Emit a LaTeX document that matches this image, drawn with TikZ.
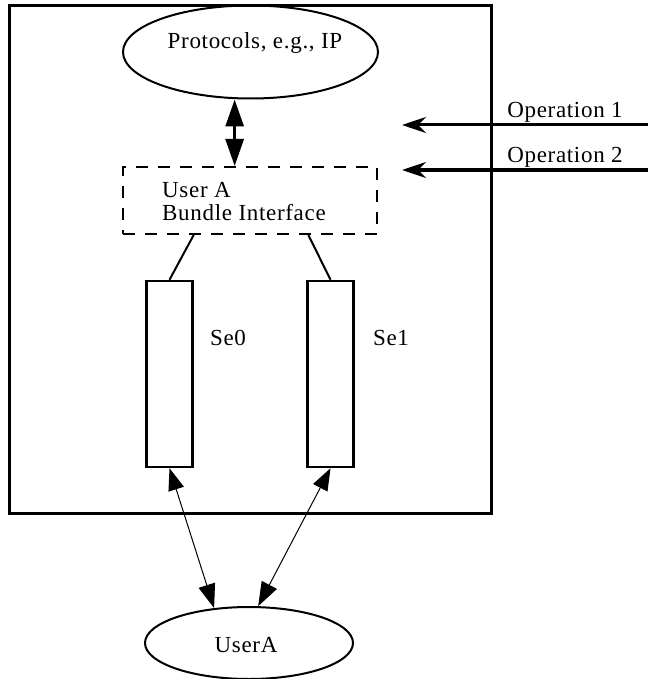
\documentclass[tikz,border=0pt]{standalone}
\usepackage{fontspec}
\setmainfont{Liberation Serif}[LetterSpace=3]
\usetikzlibrary{shapes.geometric,arrows.meta,calc}
\begin{document}
\begin{tikzpicture}[x=1pt,y=-1pt,
  every node/.style={font=\fontsize{23}{23}\selectfont, inner sep=0pt},
  oval/.style={draw, ellipse, line width=2pt},
  chan/.style={draw, rectangle, line width=2.5pt, minimum width=46pt, minimum height=186pt},
  op/.style={line width=3pt, -{Stealth[length=24pt,width=16pt]}},
  dbl/.style={line width=3pt, {Triangle[length=27pt,width=18pt]}-{Triangle[length=27pt,width=18pt]}},
  thin/.style={line width=1pt, {Triangle[length=22pt,width=16pt]}-{Triangle[length=24pt,width=17pt]}},
  link/.style={line width=2pt}]
\useasboundingbox (0,0) rectangle (648,679);
\node[draw, line width=3pt, minimum width=482pt, minimum height=507pt] (sys) at (250,259.5) {};
\node[oval, minimum width=255pt, minimum height=93pt] (proto) at (250.5,52) {};
\node (protolbl) at (255,43) {Protocols, e.g., IP};
\node[draw, dashed, dash pattern=on 12pt off 10pt, line width=2pt, minimum width=254pt, minimum height=67pt] (ui) at (250,200.5) {};
\node[anchor=west, align=left] (uilbl) at (162,201.5) {User A\\Bundle Interface};
\node[chan] (se0) at (169.5,374) {};
\node[chan] (se1) at (330.5,374) {};
\node (se0lbl) at (228,338) {Se0};
\node (se1lbl) at (391,338) {Se1};
\node[oval, minimum width=208pt, minimum height=72pt] (usera) at (249,643) {};
\node (useralbl) at (246,645) {UserA};
\coordinate (up) at ($(ui.north west)!0.44!(ui.north east)$);
\draw[dbl] (up |- proto.south) -- (up);
\draw[link] ($(ui.south west)!0.28!(ui.south east)$) -- (se0.north);
\draw[link] ($(ui.south west)!0.728!(ui.south east)$) -- (se1.north);
\draw[thin] (se0.south) -- (usera.135);
\draw[thin] (se1.south) -- (usera.76);
\coordinate (op1s) at (648,125);
\coordinate (op1e) at (402,125);
\coordinate (op2s) at (648,170);
\coordinate (op2e) at (402,170);
\draw[op] (op1s) -- (op1e);
\draw[op] (op2s) -- (op2e);
\node (op1lbl) at (565,112) {Operation 1};
\node (op2lbl) at (565,157) {Operation 2};
\end{tikzpicture}
\end{document}
